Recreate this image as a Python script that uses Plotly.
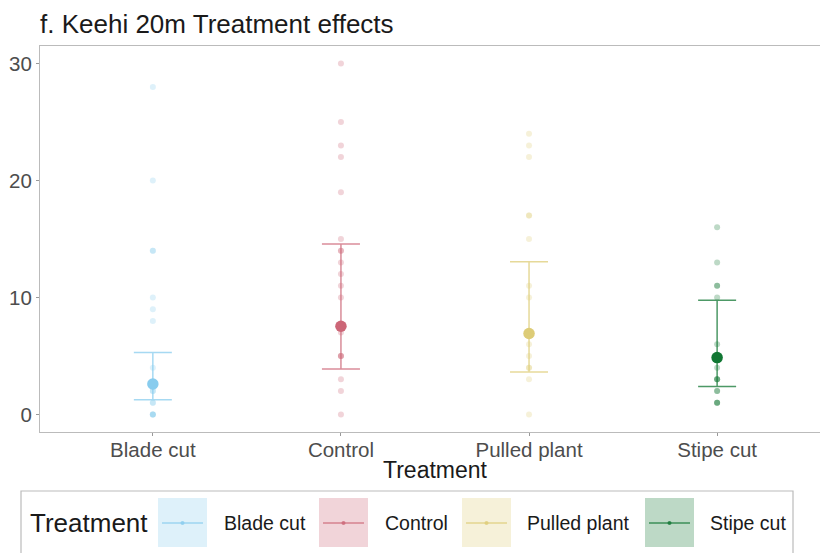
import plotly.graph_objects as go

# ---- data ----
treatments = ["Blade cut", "Control", "Pulled plant", "Stipe cut"]
colors = ["#88CCEE", "#CC6677", "#DDCC77", "#117733"]

# raw observations (repeated values overlap and appear darker)
blade_cut = [28, 20, 14, 14, 10, 9, 8, 4, 2, 2, 1, 1, 0, 0, 0, 0]
control = [30, 25, 23, 22, 19, 15, 14, 14, 13, 12, 11, 10, 7, 5, 5, 5, 3, 2, 0]
pulled_plant = [24, 23, 22, 17, 17, 15, 11, 10, 7, 6, 5, 4, 4, 3, 0]
stipe_cut = [16, 13, 11, 11, 10, 6, 5, 4, 3, 3, 3, 2, 2, 1, 1, 1]
observations = [blade_cut, control, pulled_plant, stipe_cut]

# model estimates with confidence limits
est_mean = [2.60, 7.54, 6.92, 4.86]
est_lower = [1.26, 3.88, 3.62, 2.40]
est_upper = [5.29, 14.57, 13.05, 9.77]

y_ticks = [0, 10, 20, 30]

FONT = "Liberation Sans, Arial, Helvetica, sans-serif"

# plot-area geometry (pixels) for placing manual legend
L, T, W, H = 40, 46, 780, 386
def px(x):
    return (x - L) / W
def py(y):
    return (T + H - y) / H

fig = go.Figure()

def rgba(hexc, a):
    h = hexc.lstrip("#")
    r, g, b = int(h[0:2], 16), int(h[2:4], 16), int(h[4:6], 16)
    return f"rgba({r},{g},{b},{a})"

for name, col, obs in zip(treatments, colors, observations):
    fig.add_trace(go.Scatter(
        x=[name] * len(obs), y=obs, mode="markers",
        marker=dict(size=6, color=rgba(col, 0.28), line=dict(width=0)),
        showlegend=False, hoverinfo="y"))

for name, col, m, lo, hi in zip(treatments, colors, est_mean, est_lower, est_upper):
    fig.add_trace(go.Scatter(
        x=[name], y=[m], mode="markers",
        marker=dict(size=11.5, color=col, line=dict(width=0)),
        error_y=dict(type="data", symmetric=False, array=[hi - m], arrayminus=[m - lo],
                     color=rgba(col, 0.75), thickness=1.5, width=19),
        showlegend=False))

fig.update_layout(
    width=820, height=553,
    margin=dict(l=L, r=0, t=T, b=553 - T - H),
    paper_bgcolor="white", plot_bgcolor="white",
    font=dict(family=FONT, color="#1a1a1a"),
    showlegend=False,
)
fig.update_xaxes(
    type="category", categoryorder="array", categoryarray=treatments,
    range=[-0.6, 3.547], showgrid=False, zeroline=False,
    showline=True, linecolor="#BBBBBB", linewidth=1.2, mirror=True,
    ticks="outside", ticklen=3, tickcolor="#999999", tickwidth=1,
    ticklabelstandoff=-4,
    tickfont=dict(size=20.5, color="#4D4D4D", family=FONT),
)
fig.update_yaxes(
    range=[-1.5, 31.5], tickvals=y_ticks, ticktext=[str(v) for v in y_ticks],
    showgrid=False, zeroline=False,
    showline=True, linecolor="#BBBBBB", linewidth=1.2, mirror=False,
    ticks="outside", ticklen=3, tickcolor="#999999", tickwidth=1,
    tickfont=dict(size=20.5, color="#4D4D4D", family=FONT),
)

ann = []
# title
ann.append(dict(text="f. Keehi 20m Treatment effects", x=px(38), y=py(24), xref="paper", yref="paper",
                xanchor="left", yanchor="middle", showarrow=False,
                font=dict(size=26, color="#1a1a1a", family=FONT)))
# x axis title
ann.append(dict(text="Treatment", x=px(435), y=py(470), xref="paper", yref="paper",
                xanchor="center", yanchor="middle", showarrow=False,
                font=dict(size=23, color="#1a1a1a", family=FONT)))

shapes = []
# legend box
shapes.append(dict(type="rect", xref="paper", yref="paper", x0=px(21), x1=px(793), y0=py(491), y1=py(570),
                   line=dict(color="#BBBBBB", width=1.2), fillcolor="rgba(0,0,0,0)", layer="above"))
ann.append(dict(text="Treatment", x=px(28), y=py(523), xref="paper", yref="paper",
                xanchor="left", yanchor="middle", showarrow=False,
                font=dict(size=26, color="#1a1a1a", family=FONT)))
key_left = [158, 319, 462, 645]
lab_left = [222, 383, 525, 708]
for name, col, kx, lx in zip(treatments, colors, key_left, lab_left):
    shapes.append(dict(type="rect", xref="paper", yref="paper", x0=px(kx), x1=px(kx + 49),
                       y0=py(498), y1=py(547), line=dict(width=0), fillcolor=rgba(col, 0.28), layer="above"))
    shapes.append(dict(type="line", xref="paper", yref="paper", x0=px(kx + 4), x1=px(kx + 45),
                       y0=py(523), y1=py(523), line=dict(color=rgba(col, 0.75), width=1.6), layer="above"))
    shapes.append(dict(type="circle", xref="paper", yref="paper", x0=px(kx + 22.5), x1=px(kx + 26.5),
                       y0=py(521), y1=py(525), line=dict(width=0), fillcolor=rgba(col, 0.8), layer="above"))
    ann.append(dict(text=name, x=px(lx), y=py(523), xref="paper", yref="paper",
                    xanchor="left", yanchor="middle", showarrow=False,
                    font=dict(size=19.5, color="#1a1a1a", family=FONT)))

fig.update_layout(annotations=ann, shapes=shapes)
fig.write_html("out.html")
